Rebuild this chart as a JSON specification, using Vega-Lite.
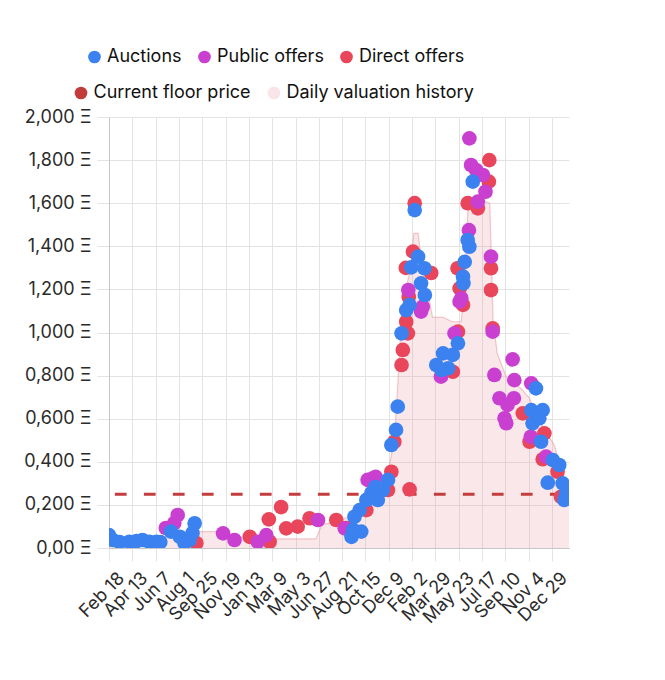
{
  "$schema": "https://vega.github.io/schema/vega-lite/v6.json",
  "width": 460,
  "height": 431,
  "autosize": {"type": "none"},
  "padding": {"left": 109, "top": 117, "right": 96, "bottom": 132},
  "background": "white",
  "config": {
    "font": "Inter",
    "view": {"stroke": null},
    "axis": {"labelFont": "Inter", "labelFontSize": 18, "labelColor": "#2b2b2b", "gridColor": "#e3e3e3", "tickColor": "#e3e3e3", "domainColor": "#c6c6c6", "title": null}
  },
  "layer": [
    {
      "data": {"values": [
        {"date": "2020-02-18", "value": 0.035, "series": "Daily valuation history"},
        {"date": "2020-04-15", "value": 0.03, "series": "Daily valuation history"},
        {"date": "2020-06-10", "value": 0.03, "series": "Daily valuation history"},
        {"date": "2020-07-10", "value": 0.06, "series": "Daily valuation history"},
        {"date": "2020-08-15", "value": 0.05, "series": "Daily valuation history"},
        {"date": "2020-09-20", "value": 0.076, "series": "Daily valuation history"},
        {"date": "2020-11-05", "value": 0.076, "series": "Daily valuation history"},
        {"date": "2020-12-15", "value": 0.05, "series": "Daily valuation history"},
        {"date": "2021-02-28", "value": 0.042, "series": "Daily valuation history"},
        {"date": "2021-06-20", "value": 0.042, "series": "Daily valuation history"},
        {"date": "2021-07-05", "value": 0.11, "series": "Daily valuation history"},
        {"date": "2021-08-10", "value": 0.12, "series": "Daily valuation history"},
        {"date": "2021-09-10", "value": 0.15, "series": "Daily valuation history"},
        {"date": "2021-10-10", "value": 0.2, "series": "Daily valuation history"},
        {"date": "2021-11-05", "value": 0.29, "series": "Daily valuation history"},
        {"date": "2021-12-01", "value": 0.3, "series": "Daily valuation history"},
        {"date": "2021-12-12", "value": 0.4, "series": "Daily valuation history"},
        {"date": "2021-12-22", "value": 0.5, "series": "Daily valuation history"},
        {"date": "2021-12-30", "value": 0.75, "series": "Daily valuation history"},
        {"date": "2022-01-06", "value": 1.0, "series": "Daily valuation history"},
        {"date": "2022-01-18", "value": 1.2, "series": "Daily valuation history"},
        {"date": "2022-01-30", "value": 1.3, "series": "Daily valuation history"},
        {"date": "2022-02-06", "value": 1.46, "series": "Daily valuation history"},
        {"date": "2022-02-16", "value": 1.46, "series": "Daily valuation history"},
        {"date": "2022-02-26", "value": 1.3, "series": "Daily valuation history"},
        {"date": "2022-03-10", "value": 1.2, "series": "Daily valuation history"},
        {"date": "2022-03-22", "value": 1.07, "series": "Daily valuation history"},
        {"date": "2022-04-16", "value": 1.07, "series": "Daily valuation history"},
        {"date": "2022-05-08", "value": 1.05, "series": "Daily valuation history"},
        {"date": "2022-05-29", "value": 1.05, "series": "Daily valuation history"},
        {"date": "2022-06-08", "value": 1.3, "series": "Daily valuation history"},
        {"date": "2022-06-14", "value": 1.6, "series": "Daily valuation history"},
        {"date": "2022-07-10", "value": 1.62, "series": "Daily valuation history"},
        {"date": "2022-08-04", "value": 1.6, "series": "Daily valuation history"},
        {"date": "2022-08-12", "value": 1.05, "series": "Daily valuation history"},
        {"date": "2022-08-22", "value": 0.9, "series": "Daily valuation history"},
        {"date": "2022-09-15", "value": 0.78, "series": "Daily valuation history"},
        {"date": "2022-10-17", "value": 0.74, "series": "Daily valuation history"},
        {"date": "2022-11-06", "value": 0.695, "series": "Daily valuation history"},
        {"date": "2022-11-25", "value": 0.6, "series": "Daily valuation history"},
        {"date": "2022-12-12", "value": 0.55, "series": "Daily valuation history"},
        {"date": "2023-01-04", "value": 0.475, "series": "Daily valuation history"},
        {"date": "2023-01-20", "value": 0.35, "series": "Daily valuation history"},
        {"date": "2023-02-07", "value": 0.25, "series": "Daily valuation history"}
      ]},
      "mark": {"type": "area", "fillOpacity": 0.22, "clip": true, "line": {"strokeWidth": 1.2, "strokeOpacity": 0.5}},
      "encoding": {
        "x": {"field": "date", "type": "temporal",
          "scale": {"type": "utc", "domain": [{"year": 2020, "month": 2, "date": 18, "utc": true}, {"year": 2023, "month": 2, "date": 7, "utc": true}]},
          "axis": {"format": "%b %-d", "labelAngle": -45, "labelAlign": "right", "labelBaseline": "top", "labelOffset": 6, "labelPadding": 8, "tickSize": 13, "tickCount": 40, "labelOverlap": false, "labelBound": false, "labelFlush": false, "grid": true,
            "values": [
              {"year": 2020, "month": 2, "date": 18, "utc": true},
              {"year": 2020, "month": 4, "date": 13, "utc": true},
              {"year": 2020, "month": 6, "date": 7, "utc": true},
              {"year": 2020, "month": 8, "date": 1, "utc": true},
              {"year": 2020, "month": 9, "date": 25, "utc": true},
              {"year": 2020, "month": 11, "date": 19, "utc": true},
              {"year": 2021, "month": 1, "date": 13, "utc": true},
              {"year": 2021, "month": 3, "date": 9, "utc": true},
              {"year": 2021, "month": 5, "date": 3, "utc": true},
              {"year": 2021, "month": 6, "date": 27, "utc": true},
              {"year": 2021, "month": 8, "date": 21, "utc": true},
              {"year": 2021, "month": 10, "date": 15, "utc": true},
              {"year": 2021, "month": 12, "date": 9, "utc": true},
              {"year": 2022, "month": 2, "date": 2, "utc": true},
              {"year": 2022, "month": 3, "date": 29, "utc": true},
              {"year": 2022, "month": 5, "date": 23, "utc": true},
              {"year": 2022, "month": 7, "date": 17, "utc": true},
              {"year": 2022, "month": 9, "date": 10, "utc": true},
              {"year": 2022, "month": 11, "date": 4, "utc": true},
              {"year": 2022, "month": 12, "date": 29, "utc": true}
            ]}},
        "y": {"field": "value", "type": "quantitative", "scale": {"domain": [0, 2]},
          "axis": {"values": [0, 0.2, 0.4, 0.6, 0.8, 1.0, 1.2, 1.4, 1.6, 1.8, 2.0], "tickCount": 20, "tickSize": 12, "labelPadding": 6, "grid": true,
            "labelExpr": "datum.value == 0 ? '0,00 Ξ' : replace(format(datum.value, '.3f'), '.', ',') + ' Ξ'"}},
        "color": {"field": "series", "type": "nominal",
          "scale": {"domain": ["Current floor price", "Daily valuation history"], "range": ["#c23b3b", "#e8929e"]},
          "legend": {"title": null, "orient": "none", "legendX": -37, "legendY": -33, "direction": "horizontal", "symbolType": "circle", "symbolSize": 161, "labelFontSize": 18, "labelFont": "Inter", "labelColor": "#111111", "labelOffset": 3.5, "labelLimit": 400, "columnPadding": 14, "padding": 0,
            "encode": {"symbols": {"update": {"fillOpacity": {"signal": "datum.value === 'Daily valuation history' ? 0.25 : 1"}, "opacity": {"value": 1}, "strokeWidth": {"value": 0}}}}}
        }
      }
    },
    {
      "data": {"values": [{"floor": 0.25}]},
      "mark": {"type": "rule", "strokeDash": [11.7, 17.3], "strokeDashOffset": 21.6, "strokeWidth": 3, "color": "#c43d3d"},
      "encoding": {
        "y": {"field": "floor", "type": "quantitative", "scale": {"domain": [0, 2]},
          "axis": {"values": [0, 0.2, 0.4, 0.6, 0.8, 1.0, 1.2, 1.4, 1.6, 1.8, 2.0], "tickCount": 20, "tickSize": 12, "labelPadding": 6, "grid": true,
            "labelExpr": "datum.value == 0 ? '0,00 Ξ' : replace(format(datum.value, '.3f'), '.', ',') + ' Ξ'"}}
      }
    },
    {
      "data": {"values": [
        {"date": "2020-09-11", "price": 0.023, "type": "Direct offers"},
        {"date": "2021-01-15", "price": 0.052, "type": "Direct offers"},
        {"date": "2021-03-03", "price": 0.029, "type": "Direct offers"},
        {"date": "2021-03-01", "price": 0.133, "type": "Direct offers"},
        {"date": "2021-03-30", "price": 0.19, "type": "Direct offers"},
        {"date": "2021-04-11", "price": 0.091, "type": "Direct offers"},
        {"date": "2021-05-08", "price": 0.099, "type": "Direct offers"},
        {"date": "2021-06-05", "price": 0.138, "type": "Direct offers"},
        {"date": "2021-08-07", "price": 0.13, "type": "Direct offers"},
        {"date": "2021-08-31", "price": 0.093, "type": "Direct offers"},
        {"date": "2021-10-17", "price": 0.176, "type": "Direct offers"},
        {"date": "2021-12-07", "price": 0.269, "type": "Direct offers"},
        {"date": "2021-12-15", "price": 0.354, "type": "Direct offers"},
        {"date": "2021-12-22", "price": 0.493, "type": "Direct offers"},
        {"date": "2022-01-27", "price": 0.272, "type": "Direct offers"},
        {"date": "2022-01-08", "price": 0.849, "type": "Direct offers"},
        {"date": "2022-01-11", "price": 0.919, "type": "Direct offers"},
        {"date": "2022-01-23", "price": 0.996, "type": "Direct offers"},
        {"date": "2022-01-19", "price": 1.05, "type": "Direct offers"},
        {"date": "2022-02-08", "price": 1.6, "type": "Direct offers"},
        {"date": "2022-02-04", "price": 1.375, "type": "Direct offers"},
        {"date": "2022-01-18", "price": 1.3, "type": "Direct offers"},
        {"date": "2022-03-19", "price": 1.276, "type": "Direct offers"},
        {"date": "2022-01-25", "price": 1.166, "type": "Direct offers"},
        {"date": "2022-05-09", "price": 0.818, "type": "Direct offers"},
        {"date": "2022-05-21", "price": 1.004, "type": "Direct offers"},
        {"date": "2022-06-02", "price": 1.128, "type": "Direct offers"},
        {"date": "2022-05-20", "price": 1.298, "type": "Direct offers"},
        {"date": "2022-05-25", "price": 1.205, "type": "Direct offers"},
        {"date": "2022-06-13", "price": 1.6, "type": "Direct offers"},
        {"date": "2022-07-07", "price": 1.576, "type": "Direct offers"},
        {"date": "2022-08-03", "price": 1.8, "type": "Direct offers"},
        {"date": "2022-08-02", "price": 1.7, "type": "Direct offers"},
        {"date": "2022-08-07", "price": 1.298, "type": "Direct offers"},
        {"date": "2022-08-07", "price": 1.197, "type": "Direct offers"},
        {"date": "2022-08-11", "price": 1.019, "type": "Direct offers"},
        {"date": "2022-10-21", "price": 0.625, "type": "Direct offers"},
        {"date": "2022-11-06", "price": 0.493, "type": "Direct offers"},
        {"date": "2022-12-11", "price": 0.532, "type": "Direct offers"},
        {"date": "2022-12-07", "price": 0.412, "type": "Direct offers"},
        {"date": "2023-01-11", "price": 0.354, "type": "Direct offers"},
        {"date": "2023-01-19", "price": 0.238, "type": "Direct offers"},
        {"date": "2020-07-01", "price": 0.093, "type": "Public offers"},
        {"date": "2020-07-21", "price": 0.116, "type": "Public offers"},
        {"date": "2020-07-29", "price": 0.153, "type": "Public offers"},
        {"date": "2020-11-13", "price": 0.068, "type": "Public offers"},
        {"date": "2020-12-10", "price": 0.037, "type": "Public offers"},
        {"date": "2021-02-03", "price": 0.029, "type": "Public offers"},
        {"date": "2021-02-23", "price": 0.06, "type": "Public offers"},
        {"date": "2021-06-25", "price": 0.13, "type": "Public offers"},
        {"date": "2021-08-27", "price": 0.091, "type": "Public offers"},
        {"date": "2021-10-20", "price": 0.316, "type": "Public offers"},
        {"date": "2021-11-01", "price": 0.323, "type": "Public offers"},
        {"date": "2021-11-08", "price": 0.33, "type": "Public offers"},
        {"date": "2022-02-23", "price": 1.097, "type": "Public offers"},
        {"date": "2022-01-24", "price": 1.197, "type": "Public offers"},
        {"date": "2022-02-27", "price": 1.12, "type": "Public offers"},
        {"date": "2022-04-11", "price": 0.795, "type": "Public offers"},
        {"date": "2022-05-13", "price": 0.996, "type": "Public offers"},
        {"date": "2022-05-25", "price": 1.143, "type": "Public offers"},
        {"date": "2022-05-29", "price": 1.159, "type": "Public offers"},
        {"date": "2022-06-17", "price": 1.901, "type": "Public offers"},
        {"date": "2022-06-21", "price": 1.777, "type": "Public offers"},
        {"date": "2022-07-03", "price": 1.754, "type": "Public offers"},
        {"date": "2022-07-19", "price": 1.731, "type": "Public offers"},
        {"date": "2022-07-25", "price": 1.653, "type": "Public offers"},
        {"date": "2022-07-07", "price": 1.607, "type": "Public offers"},
        {"date": "2022-06-16", "price": 1.475, "type": "Public offers"},
        {"date": "2022-08-07", "price": 1.352, "type": "Public offers"},
        {"date": "2022-08-11", "price": 1.004, "type": "Public offers"},
        {"date": "2022-09-27", "price": 0.875, "type": "Public offers"},
        {"date": "2022-08-15", "price": 0.803, "type": "Public offers"},
        {"date": "2022-10-01", "price": 0.779, "type": "Public offers"},
        {"date": "2022-11-10", "price": 0.764, "type": "Public offers"},
        {"date": "2022-08-27", "price": 0.695, "type": "Public offers"},
        {"date": "2022-09-30", "price": 0.695, "type": "Public offers"},
        {"date": "2022-09-15", "price": 0.664, "type": "Public offers"},
        {"date": "2022-09-08", "price": 0.602, "type": "Public offers"},
        {"date": "2022-09-12", "price": 0.579, "type": "Public offers"},
        {"date": "2022-11-09", "price": 0.516, "type": "Public offers"},
        {"date": "2022-12-15", "price": 0.424, "type": "Public offers"},
        {"date": "2020-02-18", "price": 0.06, "type": "Auctions"},
        {"date": "2020-02-27", "price": 0.037, "type": "Auctions"},
        {"date": "2020-03-14", "price": 0.028, "type": "Auctions"},
        {"date": "2020-04-06", "price": 0.029, "type": "Auctions"},
        {"date": "2020-04-23", "price": 0.032, "type": "Auctions"},
        {"date": "2020-05-07", "price": 0.037, "type": "Auctions"},
        {"date": "2020-05-23", "price": 0.029, "type": "Auctions"},
        {"date": "2020-06-09", "price": 0.029, "type": "Auctions"},
        {"date": "2020-06-18", "price": 0.028, "type": "Auctions"},
        {"date": "2020-07-13", "price": 0.076, "type": "Auctions"},
        {"date": "2020-08-03", "price": 0.052, "type": "Auctions"},
        {"date": "2020-08-14", "price": 0.023, "type": "Auctions"},
        {"date": "2020-08-26", "price": 0.037, "type": "Auctions"},
        {"date": "2020-09-02", "price": 0.07, "type": "Auctions"},
        {"date": "2020-09-07", "price": 0.115, "type": "Auctions"},
        {"date": "2021-09-12", "price": 0.052, "type": "Auctions"},
        {"date": "2021-09-16", "price": 0.084, "type": "Auctions"},
        {"date": "2021-10-05", "price": 0.076, "type": "Auctions"},
        {"date": "2021-09-19", "price": 0.145, "type": "Auctions"},
        {"date": "2021-10-01", "price": 0.176, "type": "Auctions"},
        {"date": "2021-10-17", "price": 0.223, "type": "Auctions"},
        {"date": "2021-11-13", "price": 0.223, "type": "Auctions"},
        {"date": "2021-11-25", "price": 0.269, "type": "Auctions"},
        {"date": "2021-12-07", "price": 0.316, "type": "Auctions"},
        {"date": "2021-10-29", "price": 0.255, "type": "Auctions"},
        {"date": "2021-11-07", "price": 0.283, "type": "Auctions"},
        {"date": "2021-12-15", "price": 0.478, "type": "Auctions"},
        {"date": "2021-12-26", "price": 0.548, "type": "Auctions"},
        {"date": "2021-12-30", "price": 0.656, "type": "Auctions"},
        {"date": "2022-01-08", "price": 0.996, "type": "Auctions"},
        {"date": "2022-01-19", "price": 1.104, "type": "Auctions"},
        {"date": "2022-01-27", "price": 1.128, "type": "Auctions"},
        {"date": "2022-02-08", "price": 1.568, "type": "Auctions"},
        {"date": "2022-02-16", "price": 1.352, "type": "Auctions"},
        {"date": "2022-01-31", "price": 1.302, "type": "Auctions"},
        {"date": "2022-03-03", "price": 1.298, "type": "Auctions"},
        {"date": "2022-02-23", "price": 1.228, "type": "Auctions"},
        {"date": "2022-03-04", "price": 1.174, "type": "Auctions"},
        {"date": "2022-03-31", "price": 0.849, "type": "Auctions"},
        {"date": "2022-04-12", "price": 0.826, "type": "Auctions"},
        {"date": "2022-04-16", "price": 0.903, "type": "Auctions"},
        {"date": "2022-04-28", "price": 0.834, "type": "Auctions"},
        {"date": "2022-05-09", "price": 0.896, "type": "Auctions"},
        {"date": "2022-05-21", "price": 0.95, "type": "Auctions"},
        {"date": "2022-06-02", "price": 1.259, "type": "Auctions"},
        {"date": "2022-06-03", "price": 1.228, "type": "Auctions"},
        {"date": "2022-06-06", "price": 1.328, "type": "Auctions"},
        {"date": "2022-06-13", "price": 1.429, "type": "Auctions"},
        {"date": "2022-06-17", "price": 1.398, "type": "Auctions"},
        {"date": "2022-06-25", "price": 1.7, "type": "Auctions"},
        {"date": "2022-11-21", "price": 0.741, "type": "Auctions"},
        {"date": "2022-11-10", "price": 0.64, "type": "Auctions"},
        {"date": "2022-12-07", "price": 0.64, "type": "Auctions"},
        {"date": "2022-11-13", "price": 0.579, "type": "Auctions"},
        {"date": "2022-11-29", "price": 0.602, "type": "Auctions"},
        {"date": "2022-12-03", "price": 0.493, "type": "Auctions"},
        {"date": "2022-12-31", "price": 0.408, "type": "Auctions"},
        {"date": "2023-01-15", "price": 0.385, "type": "Auctions"},
        {"date": "2022-12-19", "price": 0.303, "type": "Auctions"},
        {"date": "2023-01-23", "price": 0.3, "type": "Auctions"},
        {"date": "2023-01-31", "price": 0.254, "type": "Auctions"},
        {"date": "2023-01-27", "price": 0.223, "type": "Auctions"}
      ]},
      "mark": {"type": "point", "filled": true, "size": 215, "opacity": 1, "strokeWidth": 0, "clip": true},
      "encoding": {
        "x": {"field": "date", "type": "temporal",
          "scale": {"type": "utc", "domain": [{"year": 2020, "month": 2, "date": 18, "utc": true}, {"year": 2023, "month": 2, "date": 7, "utc": true}]}},
        "y": {"field": "price", "type": "quantitative", "scale": {"domain": [0, 2]}},
        "color": {"field": "type", "type": "nominal",
          "scale": {"domain": ["Auctions", "Public offers", "Direct offers"], "range": ["#3b82f0", "#c93fd0", "#e9465b"]},
          "legend": {"title": null, "orient": "none", "legendX": -23.5, "legendY": -69, "direction": "horizontal", "symbolType": "circle", "symbolSize": 161, "labelFontSize": 18, "labelFont": "Inter", "labelColor": "#111111", "labelOffset": 3.5, "labelLimit": 400, "columnPadding": 13, "padding": 0, "symbolStrokeWidth": 0, "symbolOpacity": 1}
        }
      }
    }
  ],
  "resolve": {"scale": {"color": "independent"}}
}
